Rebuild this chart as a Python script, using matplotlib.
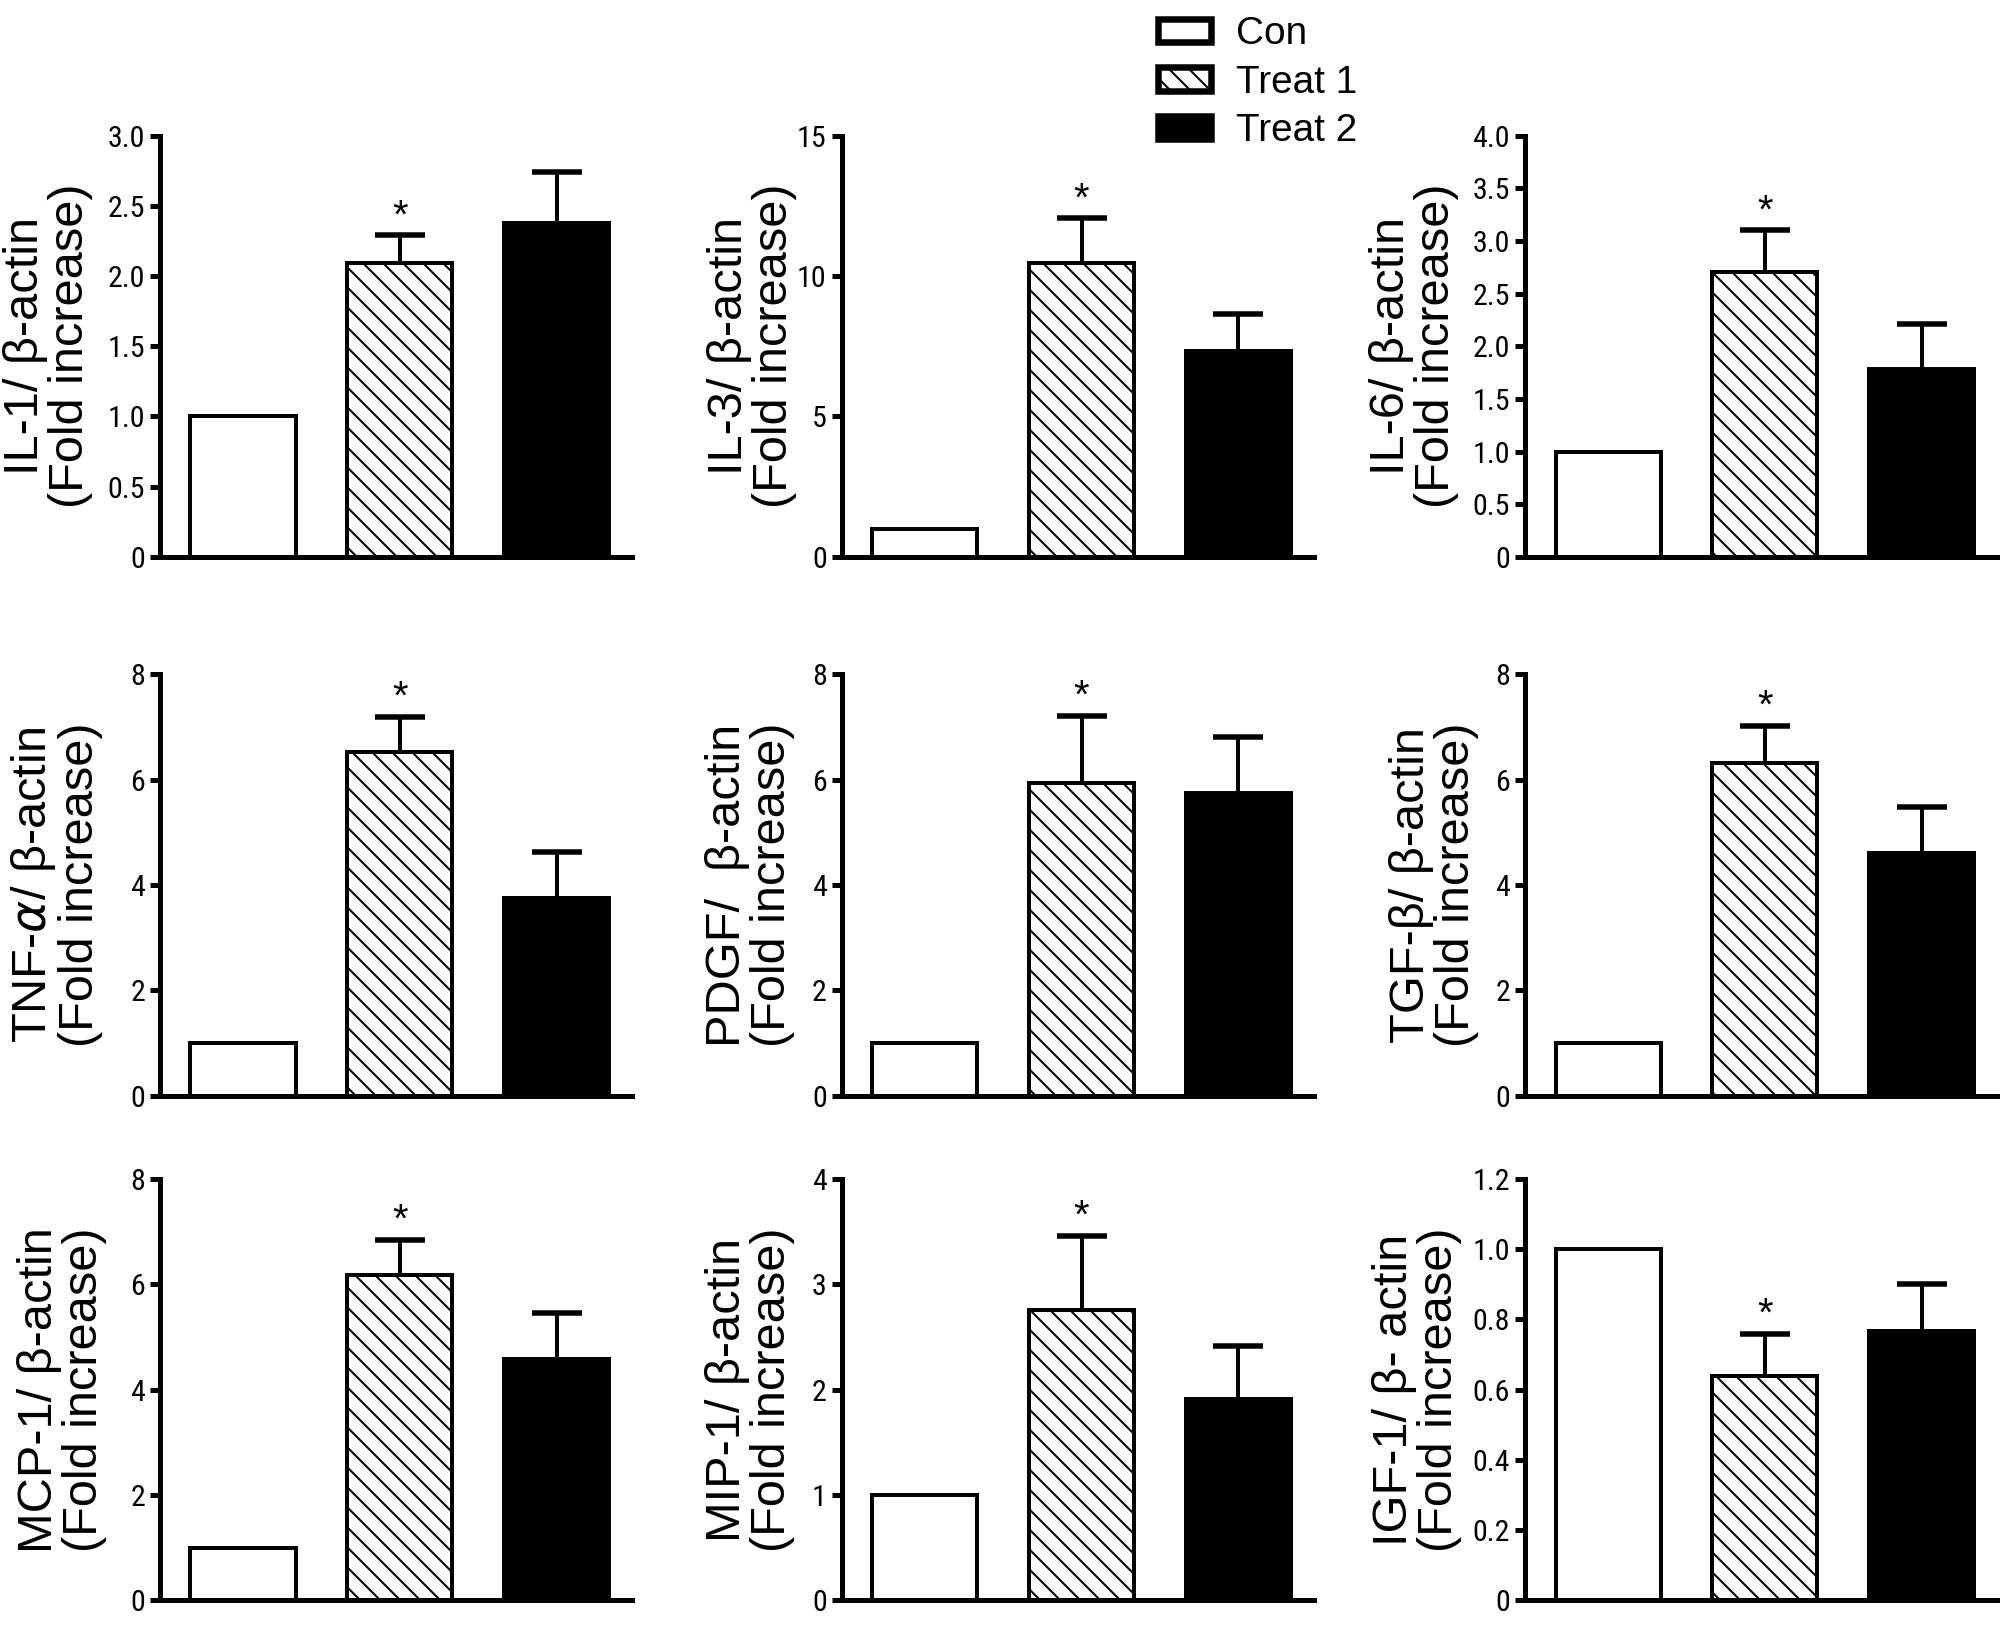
import matplotlib
matplotlib.use("Agg")
import matplotlib.pyplot as plt
import numpy as np
from matplotlib import font_manager
from matplotlib.patches import Patch
from matplotlib.ticker import FuncFormatter, MultipleLocator

# values (fold increase over control)
markers = ["IL-1", "IL-3", "IL-6", "TNF-a", "PDGF", "TGF-b", "MCP-1", "MIP-1", "IGF-1"]
ylabels = [
    "IL-1/ \u03b2-actin\n(Fold increase)",
    "IL-3/ \u03b2-actin\n(Fold increase)",
    "IL-6/ \u03b2-actin\n(Fold increase)",
    "TNF-$\\alpha$/ \u03b2-actin\n(Fold increase)",
    "PDGF/  \u03b2-actin\n(Fold increase)",
    "TGF-\u03b2/ \u03b2-actin\n(Fold increase)",
    "MCP-1/ \u03b2-actin\n(Fold increase)",
    "MIP-1/ \u03b2-actin\n(Fold increase)",
    "IGF-1/ \u03b2- actin\n(Fold increase)",
]
groups = ["Con", "Treat 1", "Treat 2"]
con = [1.0, 1.0, 1.0, 1.0, 1.0, 1.0, 1.0, 1.0, 1.0]
treat1 = [2.09, 10.45, 2.70, 6.52, 5.94, 6.31, 6.18, 2.76, 0.64]
treat1_err = [0.20, 1.60, 0.40, 0.68, 1.28, 0.72, 0.66, 0.70, 0.12]
treat2 = [2.38, 7.33, 1.78, 3.75, 5.75, 4.61, 4.58, 1.91, 0.766]
treat2_err = [0.36, 1.32, 0.43, 0.88, 1.07, 0.87, 0.87, 0.50, 0.134]
ymax = [3.0, 15, 4.0, 8, 8, 8, 8, 4, 1.2]
ystep = [0.5, 5, 0.5, 2, 2, 2, 2, 1, 0.2]
decimals = [1, 0, 1, 0, 0, 0, 0, 0, 1]

DPI = 180

# narrow font for the tick numbers if one is around
fonts = font_manager.fontManager.ttflist
names = {f.name for f in fonts}
tick_props = {"family": "Liberation Sans"}
for nm in ["Liberation Sans Narrow", "Arial Narrow", "Roboto Condensed", "Open Sans Condensed"]:
    if nm in names:
        tick_props = {"family": nm}
        break
else:
    if any(f.name == "DejaVu Sans" and f.stretch == "condensed" for f in fonts):
        tick_props = {"family": "DejaVu Sans", "stretch": "condensed"}

plt.rcParams["font.family"] = ["Liberation Sans", "DejaVu Sans"]
plt.rcParams["hatch.linewidth"] = 0.8

fig = plt.figure(figsize=(2004 / DPI, 1633 / DPI), dpi=DPI)

lefts = [0.0798, 0.420, 0.761]
bottoms = [0.659, 0.329, 0.020]
w, h = 0.2355, 0.258
label_x = [-0.142, -0.095, -0.140,
           -0.120, -0.098, -0.098,
           -0.113, -0.098, -0.133]

lw_bar = 1.6
for i in range(9):
    r, c = divmod(i, 3)
    ax = fig.add_axes([lefts[c], bottoms[r], w, h])
    x = np.arange(3)
    ax.bar(x[0], con[i], 0.67, facecolor="white", edgecolor="black",
           linewidth=lw_bar, zorder=2)
    ax.bar(x[1], treat1[i], 0.67, facecolor="white", edgecolor="black",
           hatch="\\\\\\", linewidth=lw_bar, zorder=2)
    ax.bar(x[2], treat2[i], 0.67, facecolor="black", edgecolor="black",
           linewidth=lw_bar, zorder=2)
    tops = [treat1[i], treat2[i]]
    eb = ax.errorbar(x[1:], tops,
                     yerr=[[0, 0], [treat1_err[i], treat2_err[i]]],
                     fmt="none", ecolor="black", elinewidth=1.6, capsize=10,
                     capthick=2.2, zorder=1)
    # only the upper caps are wanted
    for cap in eb.lines[1]:
        if np.allclose(cap.get_ydata(), tops):
            cap.set_visible(False)
    ax.annotate("*", xy=(x[1], treat1[i] + treat1_err[i]), xytext=(0, 0),
                textcoords="offset points", ha="center", va="bottom",
                fontsize=16)

    ax.set_xlim(-0.53, 2.48)
    ax.set_ylim(0, ymax[i])
    ax.yaxis.set_major_locator(MultipleLocator(ystep[i]))
    d = decimals[i]
    ax.yaxis.set_major_formatter(FuncFormatter(
        lambda v, p, d=d: "0" if abs(v) < 1e-9 else f"{v:.{d}f}"))
    ax.set_xticks([])
    for s in ["top", "right"]:
        ax.spines[s].set_visible(False)
    for s in ["left", "bottom"]:
        ax.spines[s].set_linewidth(2.0)
    ax.tick_params(axis="y", direction="out", length=4, width=2.0, pad=2,
                   labelsize=12)
    for t in ax.get_yticklabels():
        t.set_fontfamily(tick_props["family"])
        if "stretch" in tick_props:
            t.set_fontstretch(tick_props["stretch"])
    ax.set_ylabel(ylabels[i], fontsize=19.5, linespacing=1.0)
    ax.yaxis.set_label_coords(label_x[i], 0.5)

# legend boxes with the heavier outline seen in the key
handles = [
    Patch(facecolor="white", edgecolor="black", linewidth=2.6),
    Patch(facecolor="white", edgecolor="black", hatch="\\\\\\", linewidth=2.6),
    Patch(facecolor="black", edgecolor="black", linewidth=2.6),
]
fig.legend(handles=handles, labels=groups, loc="upper left",
           bbox_to_anchor=(0.578, 0.990), frameon=False, fontsize=15.5,
           handlelength=1.35, handleheight=0.55, handletextpad=0.65,
           labelspacing=0.32, borderpad=0, borderaxespad=0)

fig.savefig("out.png", dpi=DPI)
